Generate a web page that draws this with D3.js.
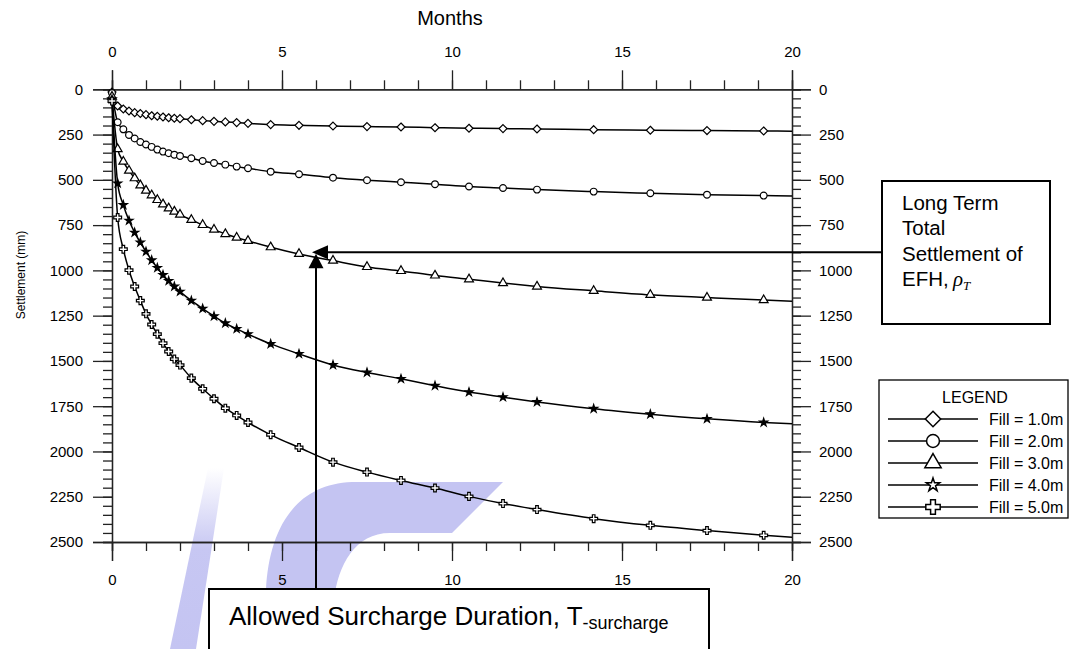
<!DOCTYPE html>
<html>
<head>
<meta charset="utf-8">
<script src="https://cdn.jsdelivr.net/npm/d3@7"></script>
<style>
  body { margin: 0; background: #fff; }
  svg text { font-family: "Liberation Sans", Arial, Helvetica, sans-serif; fill: #000; }
</style>
</head>
<body>
<svg id="chart" width="1073" height="649"></svg>
<script>
// ---- data -------------------------------------------------------------
// elapsed time of each reading, in days (plotted in months = days / 30)
const days = [0, 5, 10, 15, 20, 25, 30, 35, 40, 45, 50, 55, 60,
              70, 80, 90, 100, 110, 120,
              140, 165, 195, 225, 255, 285, 315, 345, 375, 425, 475, 525, 575, 600];

// settlement (mm) for each fill height
const fill1 = [15, 92, 109, 120, 129, 134, 140, 146, 149, 153, 157, 160, 162,
               168, 173, 177, 180, 184, 188,
               195, 199, 203, 206, 208, 212, 215, 217, 219, 223, 226, 228, 230, 231];
const fill2 = [20, 182, 221, 252, 272, 291, 305, 318, 333, 344, 353, 361, 368,
               381, 396, 407, 416, 427, 436,
               455, 469, 488, 502, 513, 524, 537, 545, 554, 565, 574, 582, 587, 589];
const fill3 = [40, 330, 399, 449, 491, 530, 559, 585, 611, 635, 657, 675, 692,
               721, 749, 775, 799, 819, 837,
               872, 909, 946, 981, 1003, 1028, 1049, 1070, 1089, 1113, 1135, 1150, 1164, 1170];
const fill4 = [55, 519, 639, 725, 791, 846, 896, 944, 986, 1025, 1058, 1089, 1117,
               1167, 1211, 1253, 1292, 1323, 1352,
               1406, 1461, 1522, 1564, 1599, 1637, 1672, 1700, 1727, 1764, 1794, 1820, 1840, 1847];
const fill5 = [65, 708, 883, 999, 1089, 1167, 1240, 1299, 1352, 1402, 1448, 1490, 1523,
               1595, 1654, 1709, 1761, 1801, 1840,
               1908, 1978, 2059, 2114, 2160, 2202, 2248, 2288, 2321, 2371, 2408, 2437, 2463, 2474];

const seriesNames = ["Fill = 1.0m", "Fill = 2.0m", "Fill = 3.0m", "Fill = 4.0m", "Fill = 5.0m"];
const seriesValues = [fill1, fill2, fill3, fill4, fill5];

const monthTicks = [0, 5, 10, 15, 20];
const settlementTicks = [0, 250, 500, 750, 1000, 1250, 1500, 1750, 2000, 2250, 2500];

// annotation target: surcharge duration (months) and long-term settlement (mm)
const surchargeMonths = 6;
const longTermSettlement = 900;

// ---- layout -----------------------------------------------------------
const svg = d3.select("#chart");
const plotLeft = 112, plotRight = 792, plotTop = 89.3, plotBottom = 542;

const x = d3.scaleLinear().domain([0, 20]).range([plotLeft, plotRight]);
const y = d3.scaleLinear().domain([0, 2500]).range([plotTop, plotBottom]);

// ---- background logo wash --------------------------------------------
const defs = svg.append("defs");
const grad = defs.append("linearGradient")
  .attr("id", "barFade").attr("x1", 0).attr("y1", 1).attr("x2", 0).attr("y2", 0);
grad.append("stop").attr("offset", "0").attr("stop-color", "#c4c4f2").attr("stop-opacity", 1);
grad.append("stop").attr("offset", "0.55").attr("stop-color", "#c4c4f2").attr("stop-opacity", 0.95);
grad.append("stop").attr("offset", "1").attr("stop-color", "#c4c4f2").attr("stop-opacity", 0);

const logo = svg.append("g").attr("class", "logo");
logo.append("path")
  .attr("d", "M264,649 L266,590 C269,528 296,484 352,482 L503,482 L452,533 L390,533 C355,533 338,565 334,600 L333,649 Z")
  .attr("fill", "#c4c4f2");
logo.append("path")
  .attr("d", "M170,649 L196,649 L224,468 L208,468 Z")
  .attr("fill", "url(#barFade)");

// ---- axes -------------------------------------------------------------
const axisColor = "#222";
function styleAxis(g) {
  g.select(".domain").attr("stroke", axisColor).attr("stroke-width", 1.3);
  g.selectAll(".tick line").attr("stroke", axisColor).attr("stroke-width", 1.3);
  g.selectAll("text").attr("font-size", 15).attr("fill", "#000")
    .attr("font-family", "'Liberation Sans', Arial, sans-serif");
}
const minorMonths = d3.range(0, 21, 1);
const minorSettle = d3.range(0, 2501, 50);

// minor ticks (no labels)
svg.append("g").attr("transform", `translate(0,${plotTop})`)
  .call(d3.axisTop(x).tickValues(minorMonths).tickSize(9).tickFormat(""))
  .call(styleAxis);
svg.append("g").attr("transform", `translate(0,${plotBottom})`)
  .call(d3.axisBottom(x).tickValues(minorMonths).tickSize(9).tickFormat(""))
  .call(styleAxis);
svg.append("g").attr("transform", `translate(${plotLeft},0)`)
  .call(d3.axisLeft(y).tickValues(minorSettle).tickSize(9).tickFormat(""))
  .call(styleAxis);
svg.append("g").attr("transform", `translate(${plotRight},0)`)
  .call(d3.axisRight(y).tickValues(minorSettle).tickSize(9).tickFormat(""))
  .call(styleAxis);

// major ticks with labels
svg.append("g").attr("transform", `translate(0,${plotTop})`)
  .call(d3.axisTop(x).tickValues(monthTicks).tickSize(19).tickPadding(13).tickFormat(d3.format("d")))
  .call(styleAxis);
svg.append("g").attr("transform", `translate(0,${plotBottom})`)
  .call(d3.axisBottom(x).tickValues(monthTicks).tickSize(19).tickPadding(13).tickFormat(d3.format("d")))
  .call(styleAxis);
svg.append("g").attr("transform", `translate(${plotLeft},0)`)
  .call(d3.axisLeft(y).tickValues(settlementTicks).tickSize(19).tickPadding(10).tickFormat(d3.format("d")))
  .call(styleAxis);
svg.append("g").attr("transform", `translate(${plotRight},0)`)
  .call(d3.axisRight(y).tickValues(settlementTicks).tickSize(19).tickPadding(8).tickFormat(d3.format("d")))
  .call(styleAxis);

// axis titles
svg.append("text").attr("x", 450).attr("y", 25).attr("text-anchor", "middle")
  .attr("font-size", 20).text("Months");
svg.append("text").attr("transform", "translate(25,275) rotate(-90)")
  .attr("text-anchor", "middle").attr("font-size", 12).text("Settlement (mm)");

// ---- series -----------------------------------------------------------
const symbols = [d3.symbolDiamond2, d3.symbolCircle, d3.symbolTriangle, d3.symbolStar, d3.symbolCross];
const plotSizes = [40, 36, 34, 20, 34];
const legendSizes = [150, 130, 115, 55, 115];

const line = d3.line()
  .x((d, i) => x(days[i] / 30))
  .y(d => y(d))
  .curve(d3.curveMonotoneX);

seriesValues.forEach((vals, s) => {
  const g = svg.append("g").attr("class", "series");
  g.append("path").datum(vals)
    .attr("d", line)
    .attr("fill", "none").attr("stroke", "#000").attr("stroke-width", 1.5);
  // markers at every reading except the closing point at 20 months
  const pts = vals.map((v, i) => ({ t: days[i] / 30, v })).filter((d, i) => i < vals.length - 1);
  g.selectAll("path.mk").data(pts).join("path")
    .attr("class", "mk")
    .attr("transform", d => `translate(${x(d.t)},${y(d.v)})`)
    .attr("d", d3.symbol().type(symbols[s]).size(plotSizes[s]))
    .attr("fill", s === 3 ? "#000" : "#fff")
    .attr("stroke", "#000").attr("stroke-width", 1.2);
});

// ---- annotation: long-term settlement and surcharge duration ----------
const ax = x(surchargeMonths), ay = y(longTermSettlement);
const ann = svg.append("g").attr("class", "annotation");

// horizontal leader from the text box to the curve
ann.append("line").attr("x1", 882).attr("y1", ay).attr("x2", ax + 10).attr("y2", ay)
  .attr("stroke", "#000").attr("stroke-width", 2);
ann.append("path")
  .attr("d", `M${ax - 4},${ay} L${ax + 12},${ay - 7} L${ax + 12},${ay + 7} Z`)
  .attr("fill", "#000");

// vertical leader from the duration box up to the curve
ann.append("line").attr("x1", ax).attr("y1", 589).attr("x2", ax).attr("y2", ay + 14)
  .attr("stroke", "#000").attr("stroke-width", 2);
ann.append("path")
  .attr("d", `M${ax},${ay + 1.5} L${ax - 7.5},${ay + 16} L${ax + 7.5},${ay + 16} Z`)
  .attr("fill", "#000");

// long-term settlement label box
ann.append("rect").attr("x", 882).attr("y", 181).attr("width", 168).attr("height", 143)
  .attr("fill", "#fff").attr("stroke", "#000").attr("stroke-width", 2);
const ltLines = ["Long Term", "Total", "Settlement of"];
ltLines.forEach((t, i) => {
  ann.append("text").attr("x", 902).attr("y", 210 + i * 25.3).attr("font-size", 20.5).text(t);
});
const efh = ann.append("text").attr("x", 902).attr("y", 286).attr("font-size", 20.5);
efh.append("tspan").text("EFH,");
efh.append("tspan").attr("x", 953)
  .attr("font-family", "'Liberation Serif', 'DejaVu Serif', serif").attr("font-style", "italic")
  .attr("font-size", 21).text("ρ");
efh.append("tspan").attr("dy", 4)
  .attr("font-family", "'Liberation Serif', 'DejaVu Serif', serif").attr("font-style", "italic")
  .attr("font-size", 13).text("T");

// surcharge duration label box
ann.append("rect").attr("x", 209).attr("y", 589).attr("width", 500).attr("height", 80)
  .attr("fill", "#fff").attr("stroke", "#000").attr("stroke-width", 2);
const sd = ann.append("text").attr("x", 229).attr("y", 625).attr("font-size", 26);
sd.append("tspan").text("Allowed Surcharge Duration, T");
sd.append("tspan").attr("dy", 4).attr("font-size", 18).text("-surcharge");

// ---- legend -----------------------------------------------------------
const lg = svg.append("g").attr("class", "legend");
lg.append("rect").attr("x", 879).attr("y", 380).attr("width", 189).attr("height", 138)
  .attr("fill", "#fff").attr("stroke", "#000").attr("stroke-width", 1.3);
lg.append("text").attr("x", 975).attr("y", 403).attr("text-anchor", "middle")
  .attr("font-size", 16).text("LEGEND");
seriesNames.forEach((name, s) => {
  const ly = 419 + s * 22;
  lg.append("line").attr("x1", 888).attr("x2", 978).attr("y1", ly).attr("y2", ly)
    .attr("stroke", "#000").attr("stroke-width", 1.5);
  lg.append("path").attr("transform", `translate(933,${ly})`)
    .attr("d", d3.symbol().type(symbols[s]).size(legendSizes[s]))
    .attr("fill", "#fff").attr("stroke", "#000").attr("stroke-width", 1.5);
  lg.append("text").attr("x", 989).attr("y", ly + 5.5).attr("font-size", 16).text(name);
});
</script>
</body>
</html>
